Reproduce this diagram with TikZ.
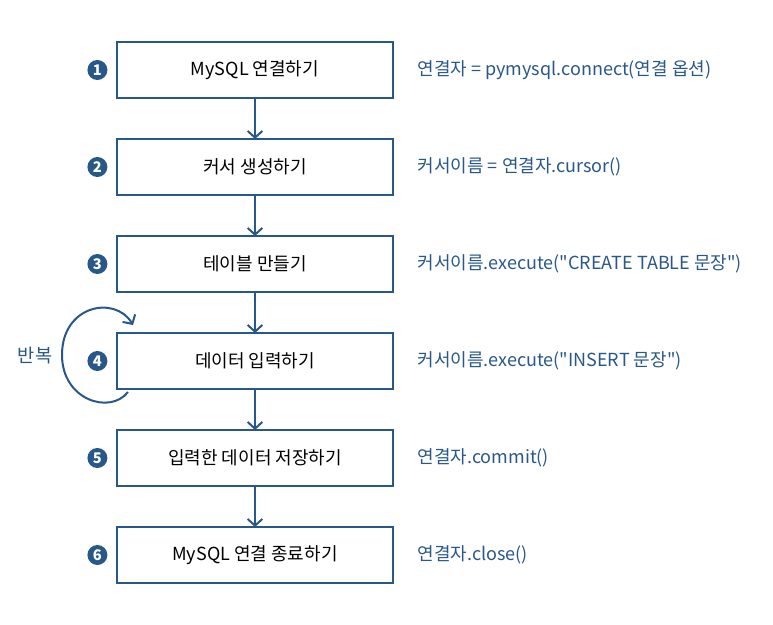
\documentclass[tikz,border=0pt]{standalone}
\usepackage{fontspec}
\setmainfont{Noto Sans CJK KR}
\usepackage{tikz}
\usetikzlibrary{positioning,arrows.meta}
\definecolor{flowblue}{RGB}{40,88,138}

\begin{document}
\begin{tikzpicture}[x=0.75pt,y=-0.75pt, node distance=30.75pt,
	stepbox/.style={draw=flowblue, line width=2.2pt, minimum width=207pt, minimum height=42pt, outer sep=0pt, font=\fontsize{13.5}{16}\selectfont},
	stepnum/.style={circle, fill=flowblue, text=white, inner sep=0pt, minimum size=15pt, font=\fontsize{11}{11}\selectfont\bfseries},
	code/.style={text=flowblue, font=\fontsize{13.5}{16}\selectfont},
	flow/.style={draw=flowblue, line width=1.5pt, -{Straight Barb[length=5pt,width=11pt]}},]
	\useasboundingbox (0,0) rectangle (773,624);
	% steps
	\node[stepbox] (connect) at (255,70) {MySQL 연결하기};
	\node[stepbox, below=of connect] (cursor) {커서 생성하기};
	\node[stepbox, below=of cursor] (table) {테이블 만들기};
	\node[stepbox, below=of table] (insert) {데이터 입력하기};
	\node[stepbox, below=of insert] (commit) {입력한 데이터 저장하기};
	\node[stepbox, below=of commit] (close) {MySQL 연결 종료하기};
	% numbers
	\node[stepnum, left=7pt of connect] (n1) {1};
	\node[stepnum, left=7pt of cursor] (n2) {2};
	\node[stepnum, left=7pt of table] (n3) {3};
	\node[stepnum, left=7pt of insert] (n4) {4};
	\node[stepnum, left=7pt of commit] (n5) {5};
	\node[stepnum, left=7pt of close] (n6) {6};
	% code
	\node[code, right=15pt of connect] (c1) {연결자 = pymysql.connect(연결 옵션)};
	\node[code, right=15pt of cursor] (c2) {커서이름 = 연결자.cursor()};
	\node[code, right=15pt of table] (c3) {커서이름.execute(\textquotedbl CREATE TABLE 문장\textquotedbl)};
	\node[code, right=15pt of insert] (c4) {커서이름.execute(\textquotedbl INSERT 문장\textquotedbl)};
	\node[code, right=15pt of commit] (c5) {연결자.commit()};
	\node[code, right=15pt of close] (c6) {연결자.close()};
	% arrows
	\draw[flow] (connect) -- (cursor);
	\draw[flow] (cursor) -- (table);
	\draw[flow] (table) -- (insert);
	\draw[flow] (insert) -- (commit);
	\draw[flow] (commit) -- (close);
	% loop
	\coordinate (loopstart) at (128,392);
	\coordinate (loopleft) at (62,355);
	\coordinate (loopend) at (133,325);
	\draw[flow] (loopstart) .. controls (110,415) and (62,400) .. (loopleft)
		.. controls (62,305) and (115,295) .. (loopend);
	\node[code, font=\fontsize{14}{16}\selectfont] (repeat) at (35,356) {반복};
\end{tikzpicture}
\end{document}
